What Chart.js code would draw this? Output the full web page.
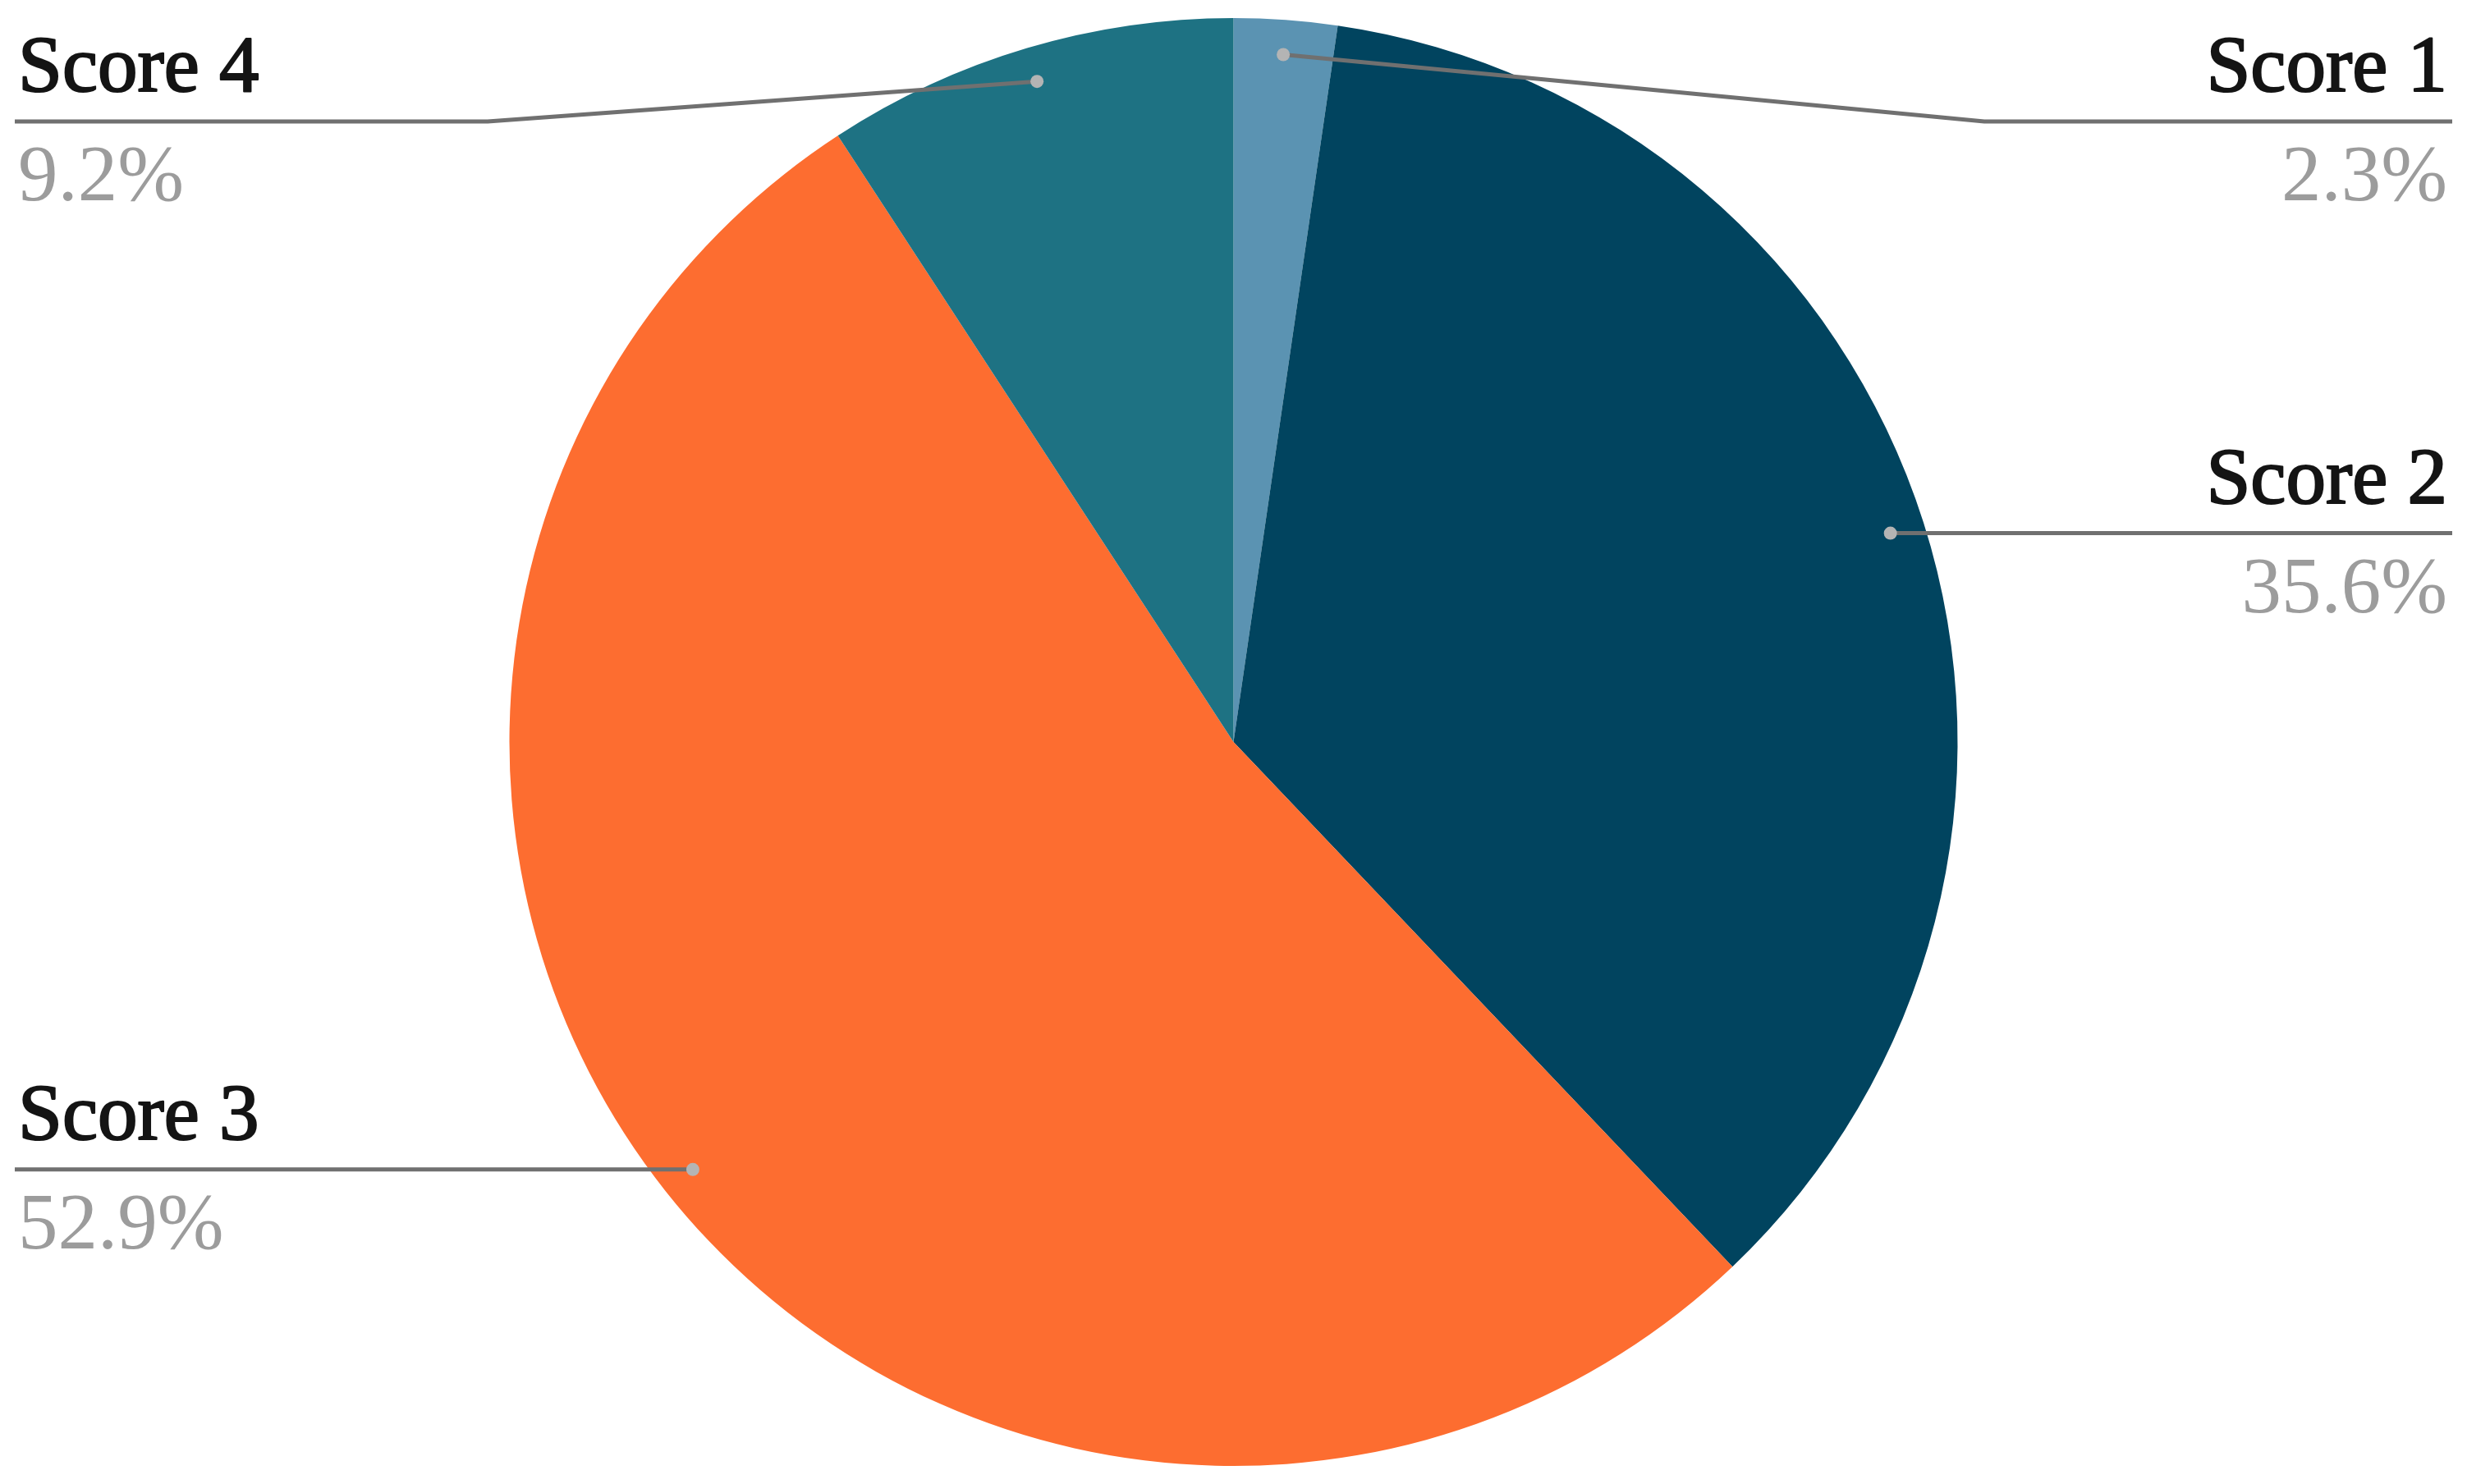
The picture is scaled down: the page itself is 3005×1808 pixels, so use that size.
<!DOCTYPE html>
<html>
<head>
<meta charset="utf-8">
<script src="https://cdn.jsdelivr.net/npm/chart.js@4/dist/chart.umd.min.js"></script>
<style>
  html, body { margin: 0; padding: 0; background: #ffffff; }
  #wrap { width: 3005px; height: 1808px; position: relative; }
</style>
</head>
<body>
<div id="wrap"><canvas id="c" width="3005" height="1808"></canvas></div>
<script>
// ---- data ----
const categories = ["Score 1", "Score 2", "Score 3", "Score 4"];
const values = [2.3, 35.6, 52.9, 9.2];
const valueLabels = ["2.3%", "35.6%", "52.9%", "9.2%"];
const sliceColors = ["#5b93b2", "#01445f", "#fd6d30", "#1e7283"];

// ---- leader-line labels plugin ----
const leaderLabels = {
  id: 'leaderLabels',
  afterDatasetsDraw(chart) {
    const ctx = chart.ctx;
    const meta = chart.getDatasetMeta(0);
    const leftX = 18, rightX = 2987;
    const minLineY = 148;
    ctx.save();
    meta.data.forEach((arc, i) => {
      const p = arc.getProps(['x', 'y', 'startAngle', 'endAngle', 'outerRadius'], true);
      const mid = (p.startAngle + p.endAngle) / 2;
      const d = p.outerRadius * 0.952;
      const dx = p.x + Math.cos(mid) * d;
      const dy = p.y + Math.sin(mid) * d;
      const right = Math.cos(mid) >= 0;
      const lineY = Math.max(dy, minLineY);
      const endX = right ? rightX : leftX;
      const kinkX = right ? rightX - 570 : leftX + 576;

      ctx.strokeStyle = '#707070';
      ctx.lineWidth = 5;
      ctx.beginPath();
      ctx.moveTo(dx, dy);
      if (Math.abs(lineY - dy) > 1) ctx.lineTo(kinkX, lineY);
      ctx.lineTo(endX, lineY);
      ctx.stroke();

      ctx.fillStyle = '#b4b4b4';
      ctx.beginPath();
      ctx.arc(dx, dy, 8, 0, Math.PI * 2);
      ctx.fill();

      ctx.textAlign = right ? 'right' : 'left';
      ctx.textBaseline = 'alphabetic';
      const tx = right ? rightX - 6 : leftX + 4;
      ctx.font = '97px "Liberation Serif", "Times New Roman", serif';
      ctx.fillStyle = '#141414';
      ctx.strokeStyle = '#141414';
      ctx.lineWidth = 2.2;
      ctx.lineJoin = 'round';
      ctx.fillText(chart.data.labels[i], tx, lineY - 37);
      ctx.strokeText(chart.data.labels[i], tx, lineY - 37);
      ctx.fillStyle = '#9c9c9c';
      ctx.fillText(valueLabels[i], tx, lineY + 96);
    });
    ctx.restore();
  }
};

new Chart(document.getElementById('c'), {
  type: 'pie',
  data: {
    labels: categories,
    datasets: [{
      data: values,
      backgroundColor: sliceColors,
      borderWidth: 0
    }]
  },
  options: {
    responsive: false,
    animation: false,
    layout: { padding: { top: 22, bottom: 22, left: 0, right: 0 } },
    plugins: {
      legend: { display: false },
      tooltip: { enabled: false }
    }
  },
  plugins: [leaderLabels]
});
</script>
</body>
</html>
